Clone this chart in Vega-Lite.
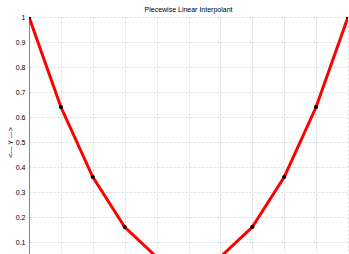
{
  "$schema": "https://vega.github.io/schema/vega-lite/v6.json",
  "autosize": {"type": "none"},
  "padding": {"left": 29, "top": 17, "right": 1, "bottom": 0},
  "width": 319,
  "height": 237,
  "background": "white",
  "config": {
    "view": {"stroke": null},
    "font": "Liberation Sans"
  },
  "title": {
    "text": "Piecewise Linear Interpolant",
    "fontSize": 7,
    "fontWeight": "normal",
    "color": "#000000",
    "offset": 0,
    "anchor": "middle"
  },
  "data": {
    "values": [
      {"x": -1.0, "y": 1.0},
      {"x": -0.8, "y": 0.64},
      {"x": -0.6, "y": 0.36},
      {"x": -0.4, "y": 0.16},
      {"x": -0.2, "y": 0.04},
      {"x": 0.0, "y": 0.0},
      {"x": 0.2, "y": 0.04},
      {"x": 0.4, "y": 0.16},
      {"x": 0.6, "y": 0.36},
      {"x": 0.8, "y": 0.64},
      {"x": 1.0, "y": 1.0}
    ]
  },
  "encoding": {
    "x": {
      "field": "x",
      "type": "quantitative",
      "scale": {"domain": [-1, 1], "nice": false},
      "axis": {
        "values": [-1, -0.8, -0.6, -0.4, -0.2, 0, 0.2, 0.4, 0.6, 0.8, 1],
        "labels": false,
        "ticks": false,
        "domain": false,
        "title": null,
        "grid": true,
        "gridColor": "#dadada",
        "gridDash": [2, 2],
        "gridWidth": 1
      }
    },
    "y": {
      "field": "y",
      "type": "quantitative",
      "scale": {"domain": [0.052, 1], "nice": false, "zero": false},
      "axis": {
        "values": [0.1, 0.2, 0.3, 0.4, 0.5, 0.6, 0.7, 0.8, 0.9, 1],
        "format": ".2~f",
        "labelFontSize": 7,
        "labelColor": "#000000",
        "labelPadding": 4,
        "tickSize": 0,
        "domain": true,
        "domainColor": "#888888",
        "domainWidth": 1,
        "grid": true,
        "gridColor": "#dadada",
        "gridDash": [2, 2],
        "gridWidth": 1,
        "title": "<--- Y --->",
        "titleFontSize": 7,
        "titleFontWeight": "normal",
        "titleColor": "#000000",
        "titleY": 125,
        "titleX": -19,
        "titleAngle": -90,
        "titleBaseline": "middle"
      }
    }
  },
  "layer": [
    {
      "mark": {"type": "line", "color": "#ff0000", "strokeWidth": 3, "clip": true}
    },
    {
      "mark": {"type": "point", "filled": true, "color": "#000000", "size": 18, "opacity": 1, "clip": true}
    }
  ]
}
